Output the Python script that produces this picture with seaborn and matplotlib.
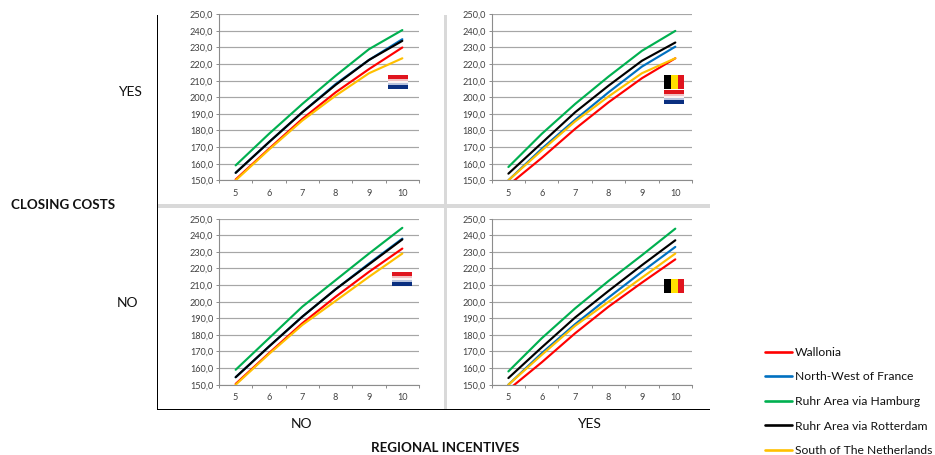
import pandas as pd
import numpy as np
import matplotlib.pyplot as plt
from matplotlib.lines import Line2D
from matplotlib.patches import Rectangle
from matplotlib.ticker import FixedLocator, FuncFormatter
import seaborn as sns

# --- 1. Data ---
years = [5, 6, 7, 8, 9, 10]
regions = ['Wallonia', 'North-West of France', 'Ruhr Area via Hamburg',
           'Ruhr Area via Rotterdam', 'South of The Netherlands']
region_colors = ['#FF0000', '#0070C0', '#00B050', '#000000', '#FFC000']

# closing costs YES, regional incentives NO
yes_no_wallonia = [150.5, 169, 187, 203, 217, 230]
yes_no_france = [154.5, 173, 191, 208, 222.5, 235]
yes_no_hamburg = [159, 178, 196, 213, 229, 240.5]
yes_no_rotterdam = [154.5, 173, 191, 207.5, 222.5, 234]
yes_no_south = [150, 168.5, 186, 201, 214.5, 223.5]

# closing costs YES, regional incentives YES
yes_yes_wallonia = [147, 163.5, 181, 197, 211.5, 223.5]
yes_yes_france = [150, 169, 186.5, 203, 218.5, 230.5]
yes_yes_hamburg = [158, 178, 196, 212.5, 228, 240]
yes_yes_rotterdam = [154, 172.5, 191, 207, 222, 233]
yes_yes_south = [150, 168, 185.5, 200.5, 214.5, 223.5]

# closing costs NO, regional incentives NO
no_no_wallonia = [150.5, 169, 187, 203, 218, 232]
no_no_france = [154.5, 173, 191, 207.5, 223, 238]
no_no_hamburg = [159, 178, 197, 213, 229, 244.5]
no_no_rotterdam = [154.5, 173, 191, 207.5, 222.5, 237.5]
no_no_south = [150, 168.5, 186, 200.5, 215, 229]

# closing costs NO, regional incentives YES
no_yes_wallonia = [147, 163.5, 181, 197, 211.5, 225.5]
no_yes_france = [150, 169, 186.5, 202.5, 218, 233]
no_yes_hamburg = [158, 178, 196, 212.5, 228, 244]
no_yes_rotterdam = [154, 172.5, 190.5, 206.5, 222, 237]
no_yes_south = [150, 168, 185.5, 200, 214.5, 229]

panel_series = {
    'yes_no': [yes_no_wallonia, yes_no_france, yes_no_hamburg, yes_no_rotterdam, yes_no_south],
    'yes_yes': [yes_yes_wallonia, yes_yes_france, yes_yes_hamburg, yes_yes_rotterdam, yes_yes_south],
    'no_no': [no_no_wallonia, no_no_france, no_no_hamburg, no_no_rotterdam, no_no_south],
    'no_yes': [no_yes_wallonia, no_yes_france, no_yes_hamburg, no_yes_rotterdam, no_yes_south],
}
y_ticks = list(range(150, 251, 10))

# --- 2. Figure in pixel coordinates ---
W, H = 935, 455
sns.set_theme(style='white')
plt.rcParams['font.family'] = ['Lato', 'DejaVu Sans']
fig = plt.figure(figsize=(W / 100, H / 100), dpi=100, facecolor='white')


def px_axes(left, top, right, bottom):
    return fig.add_axes([left / W, 1 - bottom / H, (right - left) / W, (bottom - top) / H])


def px_rect(left, top, right, bottom, color):
    fig.add_artist(Rectangle((left / W, 1 - bottom / H), (right - left) / W, (bottom - top) / H,
                             transform=fig.transFigure, facecolor=color, edgecolor='none'))


def px_text(x, y, s, **kw):
    fig.text(x / W, 1 - y / H, s, ha='center', va='center', color='#111111', **kw)


panel_boxes = {
    'yes_no': (219, 14.3, 419, 180.3),
    'yes_yes': (491.7, 14.3, 692, 180.3),
    'no_no': (219, 218.7, 419, 384.7),
    'no_yes': (491.7, 218.7, 692, 384.7),
}

for name, box in panel_boxes.items():
    ax = px_axes(*box)
    rows = []
    for region, values in zip(regions, panel_series[name]):
        rows.append(pd.DataFrame({'year': years, 'region': region, 'cost': values}))
    df = pd.concat(rows)
    sns.lineplot(data=df, x='year', y='cost', hue='region', hue_order=regions,
                 palette=region_colors, linewidth=1.55, legend=False, ax=ax, zorder=3)
    ax.set_xlim(4.5, 10.5)
    ax.set_ylim(150, 250)
    ax.set_xlabel('')
    ax.set_ylabel('')
    ax.set_xticks(years)
    ax.xaxis.set_minor_locator(FixedLocator(np.arange(4.5, 10.6, 1)))
    ax.set_yticks(y_ticks)
    ax.yaxis.set_major_formatter(FuncFormatter(lambda v, p: f'{v:.1f}'.replace('.', ',')))
    ax.tick_params(axis='x', which='major', length=0, pad=6, labelsize=6.6, labelcolor='#404040')
    ax.tick_params(axis='x', which='minor', length=2.2, width=0.7, color='#8c8c8c', bottom=True)
    ax.tick_params(axis='y', length=2.2, width=0.7, color='#8c8c8c', pad=2, labelsize=6.6,
                   labelcolor='#404040', left=True)
    ax.grid(axis='y', color='#a6a6a6', linewidth=0.85)
    ax.set_axisbelow(True)
    for side in ['top', 'right']:
        ax.spines[side].set_visible(False)
    for side in ['left', 'bottom']:
        ax.spines[side].set_color('#8c8c8c')
        ax.spines[side].set_linewidth(0.8)

# --- 3. Frame of the matrix ---
px_rect(157, 204, 710, 208, '#D9D9D9')
px_rect(444, 15, 447, 409, '#D9D9D9')
px_rect(156.5, 15, 158, 410, '#000000')
px_rect(156.5, 408.5, 710, 410, '#000000')


# --- 4. Flags ---
def flag_nl(left, top):
    px_rect(left, top, left + 20, top + 4, '#E0141E')
    px_rect(left, top + 4, left + 20, top + 6, '#F2BFC2')
    px_rect(left, top + 6, left + 20, top + 8, '#FBF4F4')
    px_rect(left, top + 8, left + 20, top + 9.5, '#B9C4DE')
    px_rect(left, top + 9.5, left + 20, top + 14, '#0A2F80')


def flag_be(left, top):
    px_rect(left, top, left + 7, top + 14, '#000000')
    px_rect(left + 7, top, left + 14, top + 14, '#FFE000')
    px_rect(left + 14, top, left + 20, top + 14, '#E0141E')


flag_nl(388, 75)
flag_be(664, 75)
flag_nl(664, 90)
flag_nl(392, 272)
flag_be(664, 279)

# --- 5. Labels and legend ---
px_text(130, 92, 'YES', fontsize=10)
px_text(127, 303, 'NO', fontsize=10)
px_text(302, 424.5, 'NO', fontsize=10)
px_text(589, 424.5, 'YES', fontsize=10)
px_text(63, 205, 'CLOSING COSTS', fontsize=9.6, fontweight='bold')
px_text(445, 448, 'REGIONAL INCENTIVES', fontsize=9.6, fontweight='bold')

handles = [Line2D([0], [0], color=c, linewidth=1.9) for c in region_colors]
fig.legend(handles, regions, loc='center left', bbox_to_anchor=(765 / W, 1 - 401.5 / H),
           frameon=False, fontsize=8.75, handlelength=2.2, handletextpad=0.25,
           labelspacing=1.12, labelcolor='#111111', borderpad=0, borderaxespad=0)

fig.savefig('out.png', dpi=100, facecolor='white')
